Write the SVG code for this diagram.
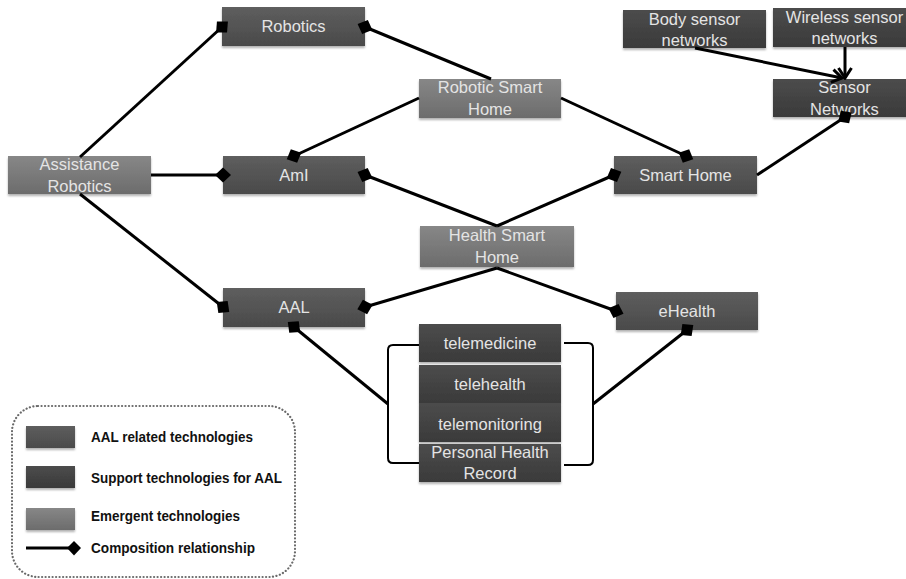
<svg xmlns="http://www.w3.org/2000/svg" width="906" height="579" viewBox="0 0 906 579">
<style>
.box{stroke:none;filter:url(#sh)}
.aal{fill:url(#gAal)}
.sup{fill:url(#gSup)}
.emg{fill:url(#gEmg)}
.t{font-family:"Liberation Sans",Arial,sans-serif;font-size:16.5px;fill:#e4e4e4;text-anchor:middle}
.lt{font-family:"Liberation Sans",Arial,sans-serif;font-size:15px;font-weight:bold;fill:#111}
.c{stroke:#000;stroke-width:3;fill:none;marker-end:url(#dia)}
.a{stroke:#000;stroke-width:3;fill:none;marker-end:url(#arr)}
.br{stroke:#000;stroke-width:2;fill:none}
</style>
<defs>
<linearGradient id="gAal" x1="0" y1="0" x2="0" y2="1"><stop offset="0" stop-color="#5e5e5e"/><stop offset="1" stop-color="#4a4a4a"/></linearGradient>
<linearGradient id="gSup" x1="0" y1="0" x2="0" y2="1"><stop offset="0" stop-color="#4c4c4c"/><stop offset="1" stop-color="#3a3a3a"/></linearGradient>
<linearGradient id="gEmg" x1="0" y1="0" x2="0" y2="1"><stop offset="0" stop-color="#878787"/><stop offset="1" stop-color="#6c6c6c"/></linearGradient>
<filter id="sh" x="-10%" y="-20%" width="120%" height="150%"><feDropShadow dx="0" dy="2" stdDeviation="1.2" flood-color="#000" flood-opacity="0.3"/></filter>
<marker id="dia" markerUnits="userSpaceOnUse" markerWidth="18" markerHeight="18" viewBox="0 0 18 18" refX="9" refY="9" orient="auto"><path d="M1,9 L9,1.5 L17,9 L9,16.5 Z" fill="#000"/></marker>
<marker id="arr" markerUnits="userSpaceOnUse" markerWidth="14" markerHeight="16" viewBox="0 0 14 16" refX="12" refY="8" orient="auto"><path d="M2,1.5 L12,8 L2,14.5" fill="none" stroke="#000" stroke-width="3"/></marker>
</defs>
<rect width="906" height="579" fill="#ffffff"/>

<g id="robotics"><rect class="box aal" x="222" y="7" width="143" height="39"/><text class="t" x="293.5" y="32">Robotics</text></g>
<g id="assistance-robotics"><rect class="box emg" x="8" y="156" width="143" height="38"/><text class="t" x="79.5" y="170">Assistance</text><text class="t" x="79.5" y="192">Robotics</text></g>
<g id="ami"><rect class="box aal" x="223" y="156" width="142" height="38"/><text class="t" x="294" y="181">AmI</text></g>
<g id="robotic-smart-home"><rect class="box emg" x="419" y="79" width="142" height="39"/><text class="t" x="490" y="93">Robotic Smart</text><text class="t" x="490" y="115">Home</text></g>
<g id="health-smart-home"><rect class="box emg" x="420" y="226" width="154" height="41"/><text class="t" x="497" y="241">Health Smart</text><text class="t" x="497" y="263">Home</text></g>
<g id="smart-home"><rect class="box aal" x="614" y="156" width="143" height="38"/><text class="t" x="685.5" y="181">Smart Home</text></g>
<g id="body-sensor-networks"><rect class="box sup" x="623" y="10" width="143" height="38"/><text class="t" x="694.5" y="25">Body sensor</text><text class="t" x="694.5" y="46">networks</text></g>
<g id="wireless-sensor-networks"><rect class="box sup" x="773" y="8" width="143" height="39"/><text class="t" x="844.5" y="23">Wireless sensor</text><text class="t" x="844.5" y="44">networks</text></g>
<g id="sensor-networks"><rect class="box sup" x="773" y="79" width="143" height="38"/><text class="t" x="844.5" y="93">Sensor</text><text class="t" x="844.5" y="115">Networks</text></g>
<g id="aal"><rect class="box aal" x="223" y="288" width="142" height="39"/><text class="t" x="294" y="313">AAL</text></g>
<g id="ehealth"><rect class="box aal" x="616" y="292" width="142" height="38"/><text class="t" x="687" y="317">eHealth</text></g>
<g id="telemedicine"><rect class="box sup" x="419" y="324" width="142" height="38"/><text class="t" x="490" y="349">telemedicine</text></g>
<g id="telehealth"><rect class="box sup" x="419" y="365" width="142" height="38"/><text class="t" x="490" y="390">telehealth</text></g>
<g id="telemonitoring"><rect class="box sup" x="419" y="403" width="142" height="39"/><text class="t" x="490" y="430">telemonitoring</text></g>
<g id="personal-health-record"><rect class="box sup" x="419" y="444" width="142" height="38"/><text class="t" x="490" y="458">Personal Health</text><text class="t" x="490" y="479">Record</text></g>

<g id="connectors">
<path class="c" d="M80,157 L222,27"/>
<path class="c" d="M491,79 L365,27"/>
<path class="c" d="M151,175 L223,175"/>
<path class="c" d="M419,98 L294,156"/>
<path class="c" d="M497,226 L365,175"/>
<path class="c" d="M561,98 L686,156"/>
<path class="c" d="M497,226 L614,175"/>
<path class="c" d="M757,175 L845,117"/>
<path class="a" d="M695,48 L842,78"/>
<path class="a" d="M845,47 L845,78"/>
<path class="c" d="M80,194 L223,307"/>
<path class="c" d="M497,268 L365,307"/>
<path class="c" d="M497,268 L616,311"/>
<path class="c" d="M388,404 L294,327"/>
<path class="c" d="M593,404 L687,330"/>
<path class="br" d="M419,345 H393 Q388,345 388,350 V458 Q388,463 393,463 H419"/>
<path class="br" d="M564,343 H588 Q593,343 593,348 V460 Q593,465 588,465 H564"/>
</g>

<g id="legend">
<rect x="12" y="406" width="283" height="171" rx="26" ry="26" fill="none" stroke="#6a6a6a" stroke-width="2.2" stroke-dasharray="0.1 3.4" stroke-linecap="round"/>
<rect class="box aal" x="26" y="426" width="49" height="22"/>
<rect class="box sup" x="26" y="466" width="49" height="22"/>
<rect class="box emg" x="26" y="508" width="49" height="22"/>
<line x1="26" y1="548" x2="70" y2="548" stroke="#000" stroke-width="3"/>
<path d="M67,548 L74,541 L81,548 L74,555.5 Z" fill="#000"/>
<text class="lt" x="91" y="442" textLength="162" lengthAdjust="spacingAndGlyphs">AAL related technologies</text>
<text class="lt" x="91" y="483" textLength="191" lengthAdjust="spacingAndGlyphs">Support technologies for AAL</text>
<text class="lt" x="91" y="521" textLength="149" lengthAdjust="spacingAndGlyphs">Emergent technologies</text>
<text class="lt" x="91" y="553" textLength="164" lengthAdjust="spacingAndGlyphs">Composition relationship</text>
</g>
</svg>
